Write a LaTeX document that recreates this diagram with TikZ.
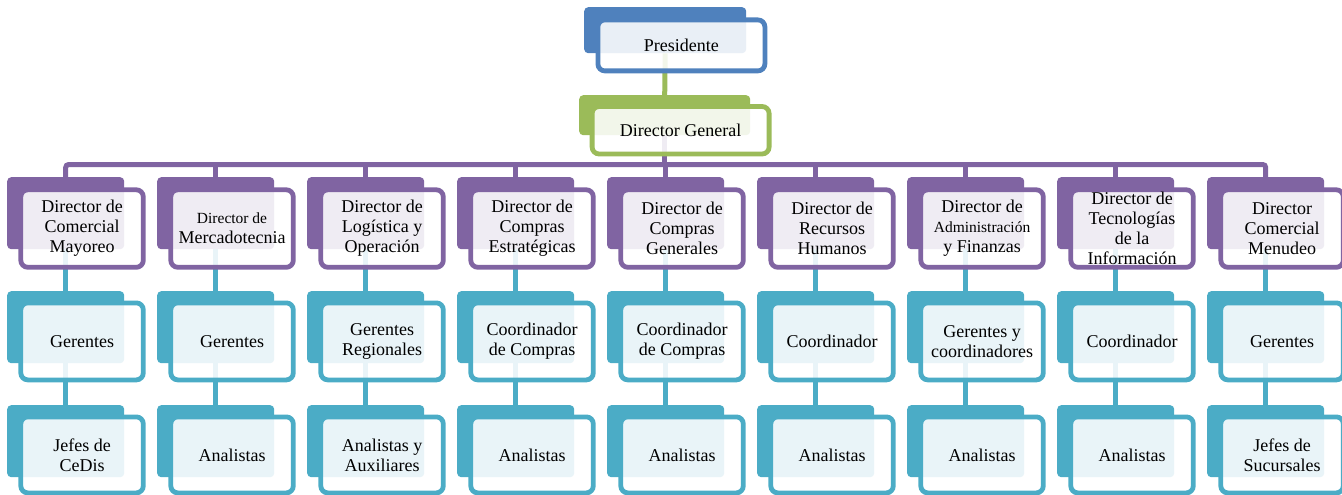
\documentclass[tikz,border=0pt]{standalone}
\usepackage{fontspec}
\setmainfont{Liberation Serif}
\definecolor{orgblue}{HTML}{4F81BD}
\definecolor{orggreen}{HTML}{9BBB59}
\definecolor{orgpurple}{HTML}{8064A2}
\definecolor{orgaqua}{HTML}{4BACC6}
\pgfdeclarelayer{bg}
\pgfsetlayers{bg,main}
\begin{document}
\begin{tikzpicture}[x=1pt,y=-1pt,
  backbox/.style={rectangle, rounded corners=4pt, inner sep=0pt, anchor=north west,
    fill=#1, minimum width=117pt, minimum height=72pt},
  frontbox/.style={rectangle, rounded corners=7pt, inner sep=0pt, anchor=north west,
    draw=#1, line width=4.8pt, fill=white, fill opacity=0.88, text opacity=1,
    minimum width=122.5pt, minimum height=77pt, align=center,
    font=\fontsize{18}{20}\selectfont},
  link/.style={draw=#1, line width=5pt}]
\useasboundingbox (0,0) rectangle (1342,495);

% top levels
\node[backbox=orgblue, minimum width=162pt, minimum height=46pt] (pb) at (584,7) {};
\node[frontbox=orgblue, minimum width=167pt, minimum height=51pt] (pf) at (595.5,17.5) {Presidente};
\node[backbox=orggreen, minimum width=171pt, minimum height=40pt] (gb) at (579,95) {};
\node[frontbox=orggreen, minimum width=177pt, minimum height=47.5pt] (gf) at (589.7,104.1) {Director General};

% nine columns: director, second level, third level
\foreach \i/\ta/\tb/\tc in {
  1/{Director de\\Comercial\\Mayoreo}/{Gerentes}/{Jefes de\\CeDis},
  2/{\fontsize{15.5}{17}\selectfont Director de\\Mercadotecnia}/{Gerentes}/{Analistas},
  3/{Director de\\Logística y\\Operación}/{Gerentes\\Regionales}/{Analistas y\\Auxiliares},
  4/{Director de\\Compras\\Estratégicas}/{Coordinador\\de Compras}/{Analistas},
  5/{Director de\\Compras\\Generales}/{Coordinador\\de Compras}/{Analistas},
  6/{Director de\\Recursos\\Humanos}/{Coordinador}/{Analistas},
  7/{Director de\\{\fontsize{15.5}{20}\selectfont Administración}\\y Finanzas}/{Gerentes y\\coordinadores}/{Analistas},
  8/{\fontsize{18}{18.3}\selectfont Director de\\Tecnologías\\de la\\Información}/{Coordinador}/{Analistas},
  9/{Director\\Comercial\\Menudeo}/{Gerentes}/{Jefes de\\Sucursales}} {
  \pgfmathsetmacro\xl{7+150*(\i-1)}
  \node[backbox=orgpurple] (d\i) at (\xl,177) {};
  \node[frontbox=orgpurple, minimum height=77.5pt] (df\i) at (\xl+11.4,187.4) {\ta};
  \node[backbox=orgaqua] (g\i) at (\xl,291) {};
  \node[frontbox=orgaqua] (gf\i) at (\xl+11.4,300.5) {\tb};
  \node[backbox=orgaqua] (a\i) at (\xl,405) {};
  \node[frontbox=orgaqua, minimum height=76pt] (af\i) at (\xl+11.4,414.5) {\tc};
}

% connectors behind the boxes
\begin{pgfonlayer}{bg}
  \draw[link=orggreen] (pb.south) -- (gb.north);
  \coordinate (bus) at (gb.south |- 0,164.5);
  \draw[link=orgpurple] (gb.south) -- (bus);
  \draw[link=orgpurple, rounded corners=3pt] (d1.north) |- (bus) -| (d9.north);
  \foreach \i in {2,...,8}
    \draw[link=orgpurple] (d\i.north) -- (d\i.north |- bus);
  \foreach \i in {1,...,9} {
    \draw[link=orgaqua] (d\i.south) -- (g\i.north);
    \draw[link=orgaqua] (g\i.south) -- (a\i.north);
  }
\end{pgfonlayer}
\end{tikzpicture}
\end{document}
